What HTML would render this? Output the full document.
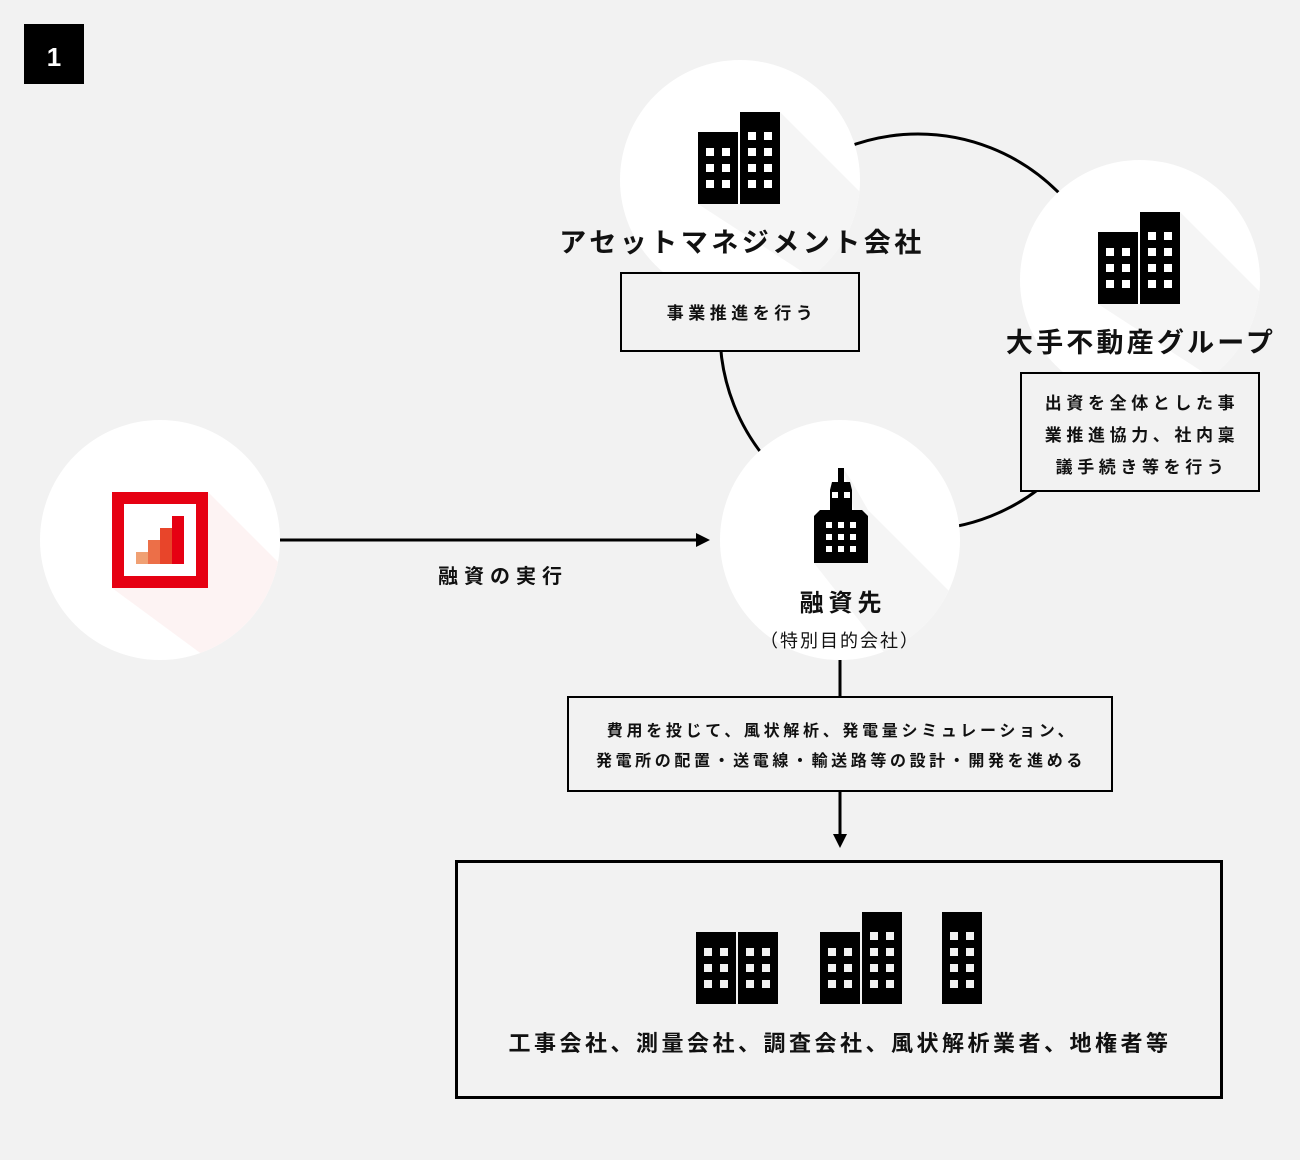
<!DOCTYPE html>
<html><head><meta charset="utf-8"><style>
html,body{margin:0;padding:0;background:#f2f2f2;}
svg{display:block}
text{font-family:"Liberation Sans","Noto Sans CJK JP",sans-serif;font-weight:bold;fill:#111;}
</style></head><body>
<svg width="1300" height="1160" viewBox="0 0 1300 1160" xmlns="http://www.w3.org/2000/svg">
<defs>
<g id="bs">
<rect x="0" y="0" width="40" height="72" fill="#000"/>
<g fill="#f2f2f2"><rect x="8" y="16" width="8" height="8"/><rect x="24" y="16" width="8" height="8"/>
<rect x="8" y="32" width="8" height="8"/><rect x="24" y="32" width="8" height="8"/>
<rect x="8" y="48" width="8" height="8"/><rect x="24" y="48" width="8" height="8"/></g>
</g>
<g id="bt">
<rect x="0" y="0" width="40" height="92" fill="#000"/>
<g fill="#f2f2f2"><rect x="8" y="20" width="8" height="8"/><rect x="24" y="20" width="8" height="8"/>
<rect x="8" y="36" width="8" height="8"/><rect x="24" y="36" width="8" height="8"/>
<rect x="8" y="52" width="8" height="8"/><rect x="24" y="52" width="8" height="8"/>
<rect x="8" y="68" width="8" height="8"/><rect x="24" y="68" width="8" height="8"/></g>
</g>
<g id="bsw">
<rect x="0" y="0" width="40" height="72" fill="#000"/>
<g fill="#fff"><rect x="8" y="16" width="8" height="8"/><rect x="24" y="16" width="8" height="8"/>
<rect x="8" y="32" width="8" height="8"/><rect x="24" y="32" width="8" height="8"/>
<rect x="8" y="48" width="8" height="8"/><rect x="24" y="48" width="8" height="8"/></g>
</g>
<g id="btw">
<rect x="0" y="0" width="40" height="92" fill="#000"/>
<g fill="#fff"><rect x="8" y="20" width="8" height="8"/><rect x="24" y="20" width="8" height="8"/>
<rect x="8" y="36" width="8" height="8"/><rect x="24" y="36" width="8" height="8"/>
<rect x="8" y="52" width="8" height="8"/><rect x="24" y="52" width="8" height="8"/>
<rect x="8" y="68" width="8" height="8"/><rect x="24" y="68" width="8" height="8"/></g>
</g>
<clipPath id="c1"><circle cx="160" cy="540" r="120"/></clipPath>
<clipPath id="c2"><circle cx="740" cy="180" r="120"/></clipPath>
<clipPath id="c3"><circle cx="1140" cy="280" r="120"/></clipPath>
<clipPath id="c4"><circle cx="840" cy="540" r="120"/></clipPath>
</defs>

<rect x="24" y="24" width="60" height="60" fill="#000"/>
<text x="54" y="66" text-anchor="middle" font-size="26" style="fill:#fff">1</text>

<circle cx="918" cy="332" r="198" fill="none" stroke="#000" stroke-width="3"/>

<circle cx="160" cy="540" r="120" fill="#fff"/>
<circle cx="740" cy="180" r="120" fill="#fff"/>
<circle cx="1140" cy="280" r="120" fill="#fff"/>
<circle cx="840" cy="540" r="120" fill="#fff"/>

<polygon clip-path="url(#c1)" points="208,492 400,684 400,800 112,588 208,588" fill="#fdf3f3"/>
<polygon clip-path="url(#c2)" points="780,112 1000,332 1000,400 698,204 780,204" fill="#f5f5f5"/>
<polygon clip-path="url(#c3)" points="1180,212 1400,432 1400,500 1098,304 1180,304" fill="#f5f5f5"/>
<polygon clip-path="url(#c4)" points="843,468 851,480 868,510 1100,742 1000,800 814,563 868,563" fill="#f5f5f5"/>

<rect x="112" y="492" width="96" height="96" fill="#e60012"/>
<rect x="124" y="504" width="72" height="72" fill="#fff"/>
<rect x="136" y="552" width="12" height="12" fill="#f0a073"/>
<rect x="148" y="540" width="12" height="24" fill="#ec6f48"/>
<rect x="160" y="528" width="12" height="36" fill="#e8452a"/>
<rect x="172" y="516" width="12" height="48" fill="#e60012"/>

<use href="#bsw" x="698" y="132"/>
<use href="#btw" x="740" y="112"/>
<use href="#bsw" x="1098" y="232"/>
<use href="#btw" x="1140" y="212"/>
<g fill="#000">
<rect x="838" y="468" width="6" height="14"/>
<polygon points="832,482 850,482 852,490 852,510 830,510 830,490"/>
<polygon points="820,510 862,510 868,516 868,563 814,563 814,516"/>
</g>
<g fill="#fff">
<rect x="832" y="492" width="6" height="6"/><rect x="844" y="492" width="6" height="6"/>
<rect x="826" y="522" width="6" height="6"/><rect x="838" y="522" width="6" height="6"/><rect x="850" y="522" width="6" height="6"/>
<rect x="826" y="534" width="6" height="6"/><rect x="838" y="534" width="6" height="6"/><rect x="850" y="534" width="6" height="6"/>
<rect x="826" y="546" width="6" height="6"/><rect x="838" y="546" width="6" height="6"/><rect x="850" y="546" width="6" height="6"/>
</g>

<text x="742" y="252" text-anchor="middle" font-size="27" letter-spacing="3.5">アセットマネジメント会社</text>
<text x="1141" y="352" text-anchor="middle" font-size="27" letter-spacing="3.2">大手不動産グループ</text>
<text x="843" y="611" text-anchor="middle" font-size="24" letter-spacing="5">融資先</text>
<text x="840" y="647" text-anchor="middle" font-size="18" letter-spacing="2" style="font-weight:normal">（特別目的会社）</text>
<text x="503" y="583" text-anchor="middle" font-size="20" letter-spacing="6">融資の実行</text>

<rect x="621" y="273" width="238" height="78" fill="#f2f2f2" stroke="#000" stroke-width="2"/>
<text x="742" y="319" text-anchor="middle" font-size="17" letter-spacing="4.5">事業推進を行う</text>

<rect x="1021" y="373" width="238" height="118" fill="#f2f2f2" stroke="#000" stroke-width="2"/>
<text x="1142" y="409" text-anchor="middle" font-size="17" letter-spacing="4.6">出資を全体とした事</text>
<text x="1142" y="441" text-anchor="middle" font-size="17" letter-spacing="4.6">業推進協力、社内稟</text>
<text x="1142" y="473" text-anchor="middle" font-size="17" letter-spacing="4.6">議手続き等を行う</text>

<line x1="280" y1="540" x2="698" y2="540" stroke="#000" stroke-width="3"/>
<polygon points="696,533 710,540 696,547" fill="#000"/>

<line x1="840" y1="660" x2="840" y2="838" stroke="#000" stroke-width="3"/>
<polygon points="833,834 840,848 847,834" fill="#000"/>

<rect x="568" y="697" width="544" height="94" fill="#f2f2f2" stroke="#000" stroke-width="2"/>
<text x="842" y="736" text-anchor="middle" font-size="16" letter-spacing="3.7">費用を投じて、風状解析、発電量シミュレーション、</text>
<text x="841" y="766" text-anchor="middle" font-size="16" letter-spacing="3.6">発電所の配置・送電線・輸送路等の設計・開発を進める</text>

<rect x="456.5" y="861.5" width="765" height="236" fill="#f2f2f2" stroke="#000" stroke-width="3"/>
<use href="#bs" x="696" y="932"/>
<use href="#bs" x="738" y="932"/>
<use href="#bs" x="820" y="932"/>
<use href="#bt" x="862" y="912"/>
<use href="#bt" x="942" y="912"/>
<text x="840" y="1051" text-anchor="middle" font-size="22" letter-spacing="3.5">工事会社、測量会社、調査会社、風状解析業者、地権者等</text>
</svg>
</body></html>
